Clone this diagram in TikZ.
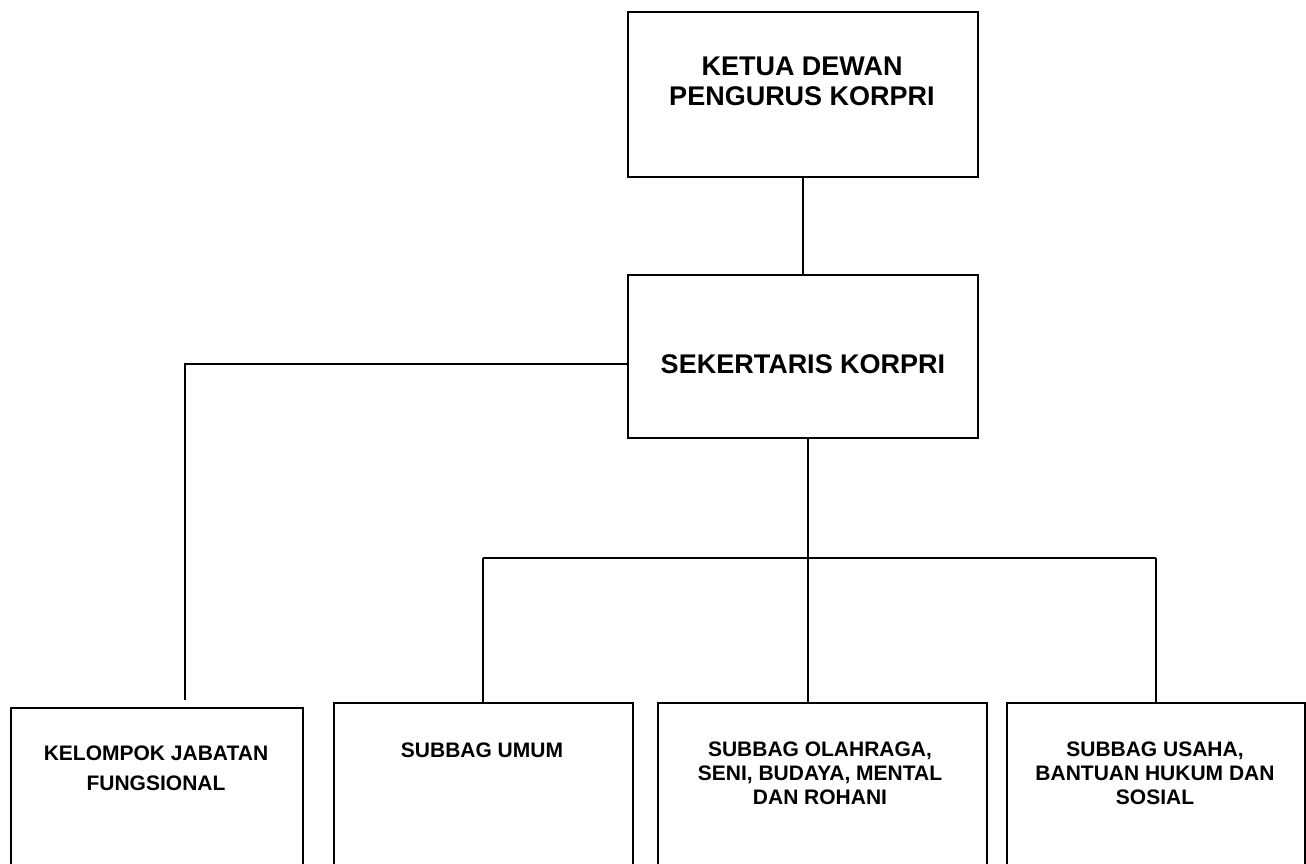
\documentclass[tikz,border=0pt]{standalone}
\usepackage{fontspec}
\setmainfont{Liberation Sans}
\begin{document}
\begin{tikzpicture}[x=1pt,y=-1pt,
  box/.style={draw=black,line width=1.6pt,rectangle,inner sep=0pt,anchor=north west},
  conn/.style={draw=black,line width=1.6pt},
  bigtxt/.style={inner sep=0pt,align=center,font=\fontsize{27}{30}\selectfont\bfseries},
  smalltxt/.style={inner sep=0pt,align=center,font=\fontsize{21}{24}\selectfont\bfseries}]
\useasboundingbox (0,0) rectangle (1306,864);
\clip (0,0) rectangle (1306,864);
% boxes
\node[box,minimum width=350pt,minimum height=165pt] (ketua) at (627,11) {};
\node[box,minimum width=350pt,minimum height=163pt] (sek) at (627,274) {};
\node[box,minimum width=292pt,minimum height=180pt] (kel) at (10,707) {};
\node[box,minimum width=299pt,minimum height=185pt] (umum) at (333,702) {};
\node[box,minimum width=329pt,minimum height=185pt] (olah) at (657,702) {};
\node[box,minimum width=298pt,minimum height=185pt] (usaha) at (1006,702) {};
% texts
\node[bigtxt] (tketua) at (802,81) {KETUA DEWAN\\PENGURUS KORPRI};
\node[bigtxt] (tsek) at (803,364) {SEKERTARIS KORPRI};
\node[smalltxt,font=\fontsize{21}{30}\selectfont\bfseries] (tkel) at (156,768) {KELOMPOK JABATAN\\FUNGSIONAL};
\node[smalltxt] (tumum) at (482,750) {SUBBAG UMUM};
\node[smalltxt] (tolah) at (820,773) {SUBBAG OLAHRAGA,\\SENI, BUDAYA, MENTAL\\DAN ROHANI};
\node[smalltxt] (tusaha) at (1155,773) {SUBBAG USAHA,\\BANTUAN HUKUM DAN\\SOSIAL};
% connector points
\coordinate (sekL) at (627,364);
\coordinate (kelTurn) at (185,364);
\coordinate (kelEnd) at (185,700);
\coordinate (sekB) at (808,437);
\coordinate (busL) at (483,558);
\coordinate (busM) at (808,558);
\coordinate (busR) at (1156,558);
\coordinate (olahTop) at (808,702);
% connectors
\draw[conn] (ketua.south) -- (sek.north);
\draw[conn] (sekL) -- (kelTurn) -- (kelEnd);
\draw[conn] (sekB) -- (busM);
\draw[conn] (busL) -- (busR);
\draw[conn] (busL) -- (busL |- umum.north);
\draw[conn] (busM) -- (olahTop);
\draw[conn] (busR) -- (busR |- usaha.north);
\end{tikzpicture}
\end{document}
